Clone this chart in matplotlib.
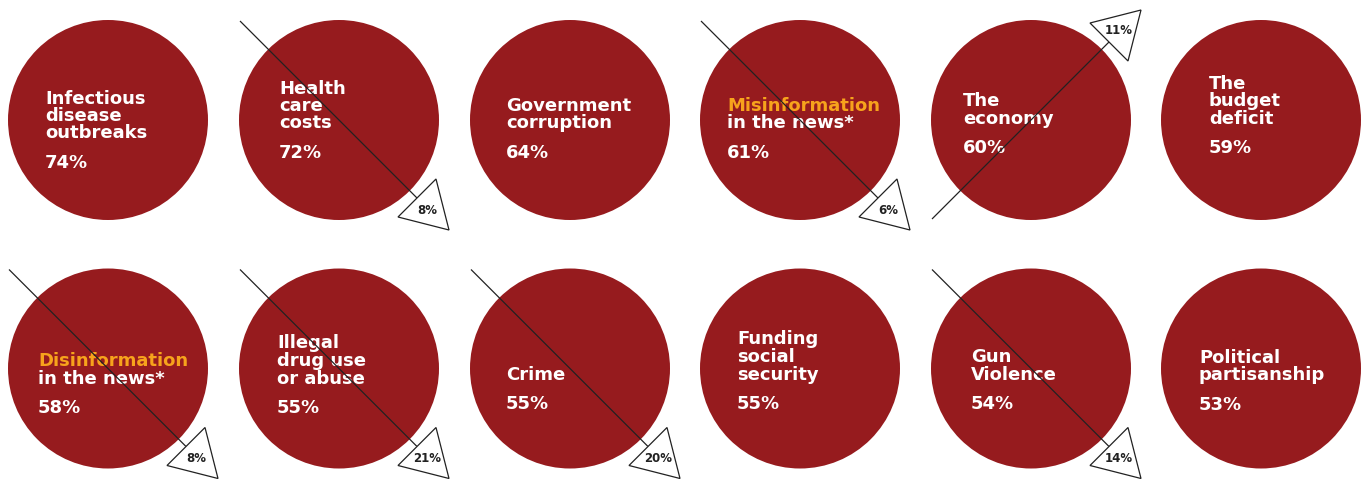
import matplotlib
matplotlib.use("Agg")
import matplotlib.pyplot as plt
from matplotlib.patches import Circle, Polygon

# ---------------- data ----------------
topics = [
    ["Infectious", "disease", "outbreaks"],
    ["Health", "care", "costs"],
    ["Government", "corruption"],
    ["Misinformation", "in the news*"],
    ["The", "economy"],
    ["The", "budget", "deficit"],
    ["Disinformation", "in the news*"],
    ["Illegal", "drug use", "or abuse"],
    ["Crime"],
    ["Funding", "social", "security"],
    ["Gun", "Violence"],
    ["Political", "partisanship"],
]
shares = [74, 72, 64, 61, 60, 59, 58, 55, 55, 55, 54, 53]
changes = [None, -8, None, -6, 11, None, -8, -21, -20, None, -14, None]
highlight_first_line = [False, False, False, True, False, False,
                        True, False, False, False, False, False]

# ---------------- layout (pixel coordinates) ----------------
col_x = [108, 339, 570, 800, 1031, 1261]
row_y = [120, 368.5]
radius = 100
text_left = [45, 279, 506, 727, 963, 1209, 38, 277, 506, 737, 971, 1199]
pct_base = [168, 158, 158, 158, 153, 153, 413, 413, 409, 409, 409, 410]
line_gap = 17.5
pct_gap = 29.5

RED = "#961B1E"
ORANGE = "#F7A31C"
INK = "#222222"
FONT = "DejaVu Sans"

W, H = 1362, 479
fig = plt.figure(figsize=(W / 100, H / 100), dpi=100)
ax = fig.add_axes([0, 0, 1, 1])
ax.set_xlim(0, W)
ax.set_ylim(H, 0)
ax.axis("off")

for i, lines in enumerate(topics):
    cx = col_x[i % 6]
    cy = row_y[i // 6]
    ax.add_patch(Circle((cx, cy), radius, facecolor=RED, edgecolor="none", zorder=1))

    # labels
    n = len(lines)
    for j, ln in enumerate(lines):
        yb = pct_base[i] - pct_gap - (n - 1 - j) * line_gap
        col = ORANGE if (j == 0 and highlight_first_line[i]) else "white"
        ax.text(text_left[i], yb, ln, ha="left", va="baseline", color=col,
                fontsize=13, fontweight="bold", family=FONT, zorder=3)
    ax.text(text_left[i], pct_base[i], f"{shares[i]}%", ha="left", va="baseline",
            color="white", fontsize=13, fontweight="bold", family=FONT, zorder=3)

    # change indicator
    ch = changes[i]
    if ch is not None:
        s = 1 if ch < 0 else -1  # vertical direction (image coords: down = +)
        start = (cx - 99, cy - s * 99)
        bm = (cx + 78, cy + s * 78)
        tip = (cx + 110, cy + s * 110)
        v1 = (bm[0] - 19, bm[1] + s * 19)
        v2 = (bm[0] + 19, bm[1] - s * 19)
        ax.plot([start[0], bm[0]], [start[1], bm[1]], color=INK, lw=0.9,
                zorder=4, solid_capstyle="butt")
        ax.add_patch(Polygon([v1, v2, tip], closed=True, facecolor="white",
                             edgecolor=INK, lw=0.9, zorder=5))
        lx = cx + 88
        ly = cy + s * 90
        ax.text(lx, ly, f"{abs(ch)}%", ha="center", va="center", color=INK,
                fontsize=8.5, fontweight="bold", family=FONT, zorder=6)

fig.savefig("out.png", dpi=100, facecolor="white")
